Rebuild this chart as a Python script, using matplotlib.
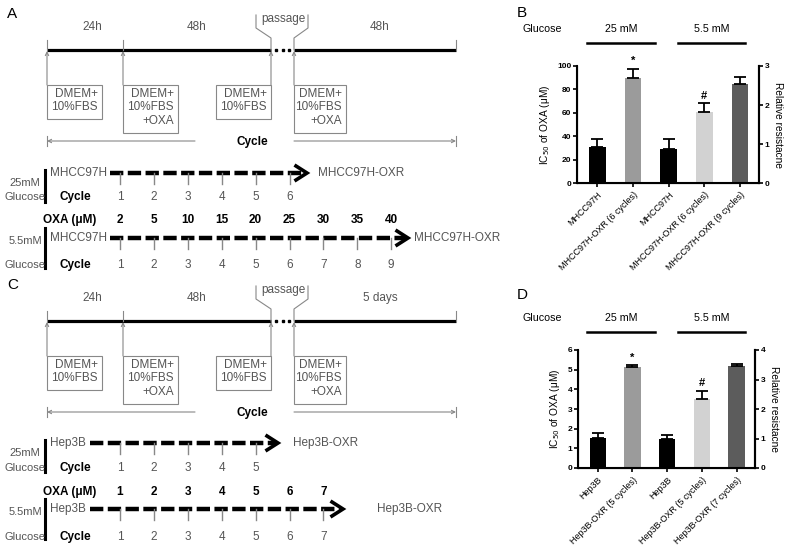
import matplotlib
matplotlib.use("Agg")
import matplotlib.pyplot as plt
import matplotlib.patches as patches

plt.rcParams['font.family'] = ['Liberation Sans', 'DejaVu Sans']

# ---- data ----
a_periods = ["24h", "48h", "48h"]
c_periods = ["24h", "48h", "5 days"]
a_cycles_25 = [1, 2, 3, 4, 5, 6]
a_cycles_55 = [1, 2, 3, 4, 5, 6, 7, 8, 9]
a_oxa = [2, 5, 10, 15, 20, 25, 30, 35, 40]
c_cycles_25 = [1, 2, 3, 4, 5]
c_cycles_55 = [1, 2, 3, 4, 5, 6, 7]
c_oxa = [1, 2, 3, 4, 5, 6, 7]

b_labels = ["MHCC97H", "MHCC97H-OXR (6 cycles)", "MHCC97H",
            "MHCC97H-OXR (6 cycles)", "MHCC97H-OXR (9 cycles)"]
b_ic50 = [31, 89.5, 29, 61, 85]
b_err = [7, 8, 9, 7, 6]
b_marks = ["", "*", "", "#", ""]

d_labels = ["Hep3B", "Hep3B-OXR (5 cycles)", "Hep3B",
            "Hep3B-OXR (5 cycles)", "Hep3B-OXR (7 cycles)"]
d_ic50 = [1.52, 5.12, 1.47, 3.51, 5.2]
d_err = [0.28, 0.1, 0.2, 0.42, 0.1]
d_marks = ["", "*", "", "#", ""]

bar_colors = ["#000000", "#9b9b9b", "#000000", "#d2d2d2", "#5c5c5c"]

GRAY = "#555555"
LGRAY = "#888888"

fig = plt.figure(figsize=(7.98, 5.48), dpi=100)
ov = fig.add_axes([0, 0, 1, 1])
ov.set_xlim(0, 798)
ov.set_ylim(548, 0)
ov.axis('off')


def draw_protocol(y0, periods, letter):
    ov.text(7, y0 + 14, letter, fontsize=11, va='center')
    for x, lab in zip([92, 197, 380], periods):
        ov.text(x, y0 + 27, lab, fontsize=8.5, color=GRAY, ha='center', va='center')
    ov.text(283, y0 + 19, "passage", fontsize=8.5, color=GRAY, ha='center', va='center')
    # timeline
    ov.plot([47, 271], [y0 + 50] * 2, color='k', lw=2.3, solid_capstyle='butt')
    ov.plot([294, 456], [y0 + 50] * 2, color='k', lw=2.3, solid_capstyle='butt')
    ov.plot([276, 282.5, 289], [y0 + 50] * 3, 's', color='k', ms=1.9)
    # passage bracket
    ov.plot([256, 256, 271, 271], [y0 + 15, y0 + 28, y0 + 38, y0 + 50], color=LGRAY, lw=0.8)
    ov.plot([308, 308, 294, 294], [y0 + 15, y0 + 28, y0 + 38, y0 + 50], color=LGRAY, lw=0.8)
    # ticks above the line
    for x in [47, 123, 456]:
        ov.plot([x, x], [y0 + 40, y0 + 50], color=LGRAY, lw=0.8)
    # boxes with arrows up to the timeline
    boxes = [(47, 55, ["DMEM+", "10%FBS"], 47),
             (123, 55, ["DMEM+", "10%FBS", "+OXA"], 123),
             (216, 55, ["DMEM+", "10%FBS"], 271),
             (294, 52, ["DMEM+", "10%FBS", "+OXA"], 294)]
    for bx, bw, lines, ax_x in boxes:
        bh = 14 * len(lines) + 6
        ov.add_patch(patches.Rectangle((bx, y0 + 85), bw, bh, fill=False,
                                       edgecolor=LGRAY, lw=0.8))
        ov.text(bx + bw - 4, y0 + 88, "\n".join(lines), fontsize=8.5, color=GRAY,
                ha='right', va='top', multialignment='right', linespacing=1.15)
        ov.annotate('', xy=(ax_x, y0 + 51), xytext=(ax_x, y0 + 85),
                    arrowprops=dict(arrowstyle='->', color=LGRAY, lw=0.8,
                                    shrinkA=0, shrinkB=0, mutation_scale=6))
    # cycle arrow
    ov.text(252, y0 + 142, "Cycle", fontsize=8.5, fontweight='bold', ha='center', va='center')
    ov.annotate('', xy=(47, y0 + 141), xytext=(195, y0 + 141),
                arrowprops=dict(arrowstyle='->', color=LGRAY, lw=0.8,
                                shrinkA=0, shrinkB=0, mutation_scale=6))
    ov.annotate('', xy=(456, y0 + 141), xytext=(294, y0 + 141),
                arrowprops=dict(arrowstyle='->', color=LGRAY, lw=0.8,
                                shrinkA=0, shrinkB=0, mutation_scale=6))
    for x in [47, 456]:
        ov.plot([x, x], [y0 + 136, y0 + 146], color=LGRAY, lw=0.8)


def tick_x(c):
    return 120 + 33.9 * (c - 1)


def draw_row(y, ylab, conc, name, cycles, dash_start, tip, end_name, end_x, upper):
    if upper:
        ov.text(25, y + 10, conc, fontsize=8, color=GRAY, ha='center', va='center')
        ov.plot([45, 45], [y - 3, y + 29], color='k', lw=2.2)
    else:
        ov.text(25, y + 3, conc, fontsize=8, color=GRAY, ha='center', va='center')
        ov.plot([45, 45], [y - 10, y + 30], color='k', lw=2.2)
    ov.text(25, ylab, "Glucose", fontsize=8, color=GRAY, ha='center', va='center')
    ov.text(50, y, name, fontsize=8.5, color=GRAY, ha='left', va='center')
    ov.plot([dash_start, tip - 3], [y, y], color='k', lw=3.2,
            linestyle=(0, (3, 1)), solid_capstyle='butt', dash_capstyle='butt')
    ov.plot([tip - 11, tip, tip - 11], [y - 7, y, y + 7], color='k', lw=2.6,
            solid_joinstyle='miter')
    for c in cycles:
        ov.plot([tick_x(c)] * 2, [y, y + 11], color=LGRAY, lw=1)
        ov.text(tick_x(c), ylab, str(c), fontsize=8.5, color=GRAY, ha='center', va='center')
    ov.text(75, ylab, "Cycle", fontsize=8.5, fontweight='bold', ha='center', va='center')
    ov.text(end_x, y, end_name, fontsize=8.5, color=GRAY, ha='left', va='center')


def draw_oxa(y, vals):
    ov.text(70, y, "OXA (\u03bcM)", fontsize=8.5, fontweight='bold', ha='center', va='center')
    for i, v in enumerate(vals):
        ov.text(tick_x(i + 1), y, str(v), fontsize=8.5, fontweight='bold',
                ha='center', va='center')


# panel A
draw_protocol(0, a_periods, "A")
draw_row(173, 197, "25mM", "MHCC97H", a_cycles_25, 110, 307, "MHCC97H-OXR", 318, True)
draw_oxa(220, a_oxa)
draw_row(238, 265, "5.5mM", "MHCC97H", a_cycles_55, 110, 408, "MHCC97H-OXR", 414, False)

# panel C
draw_protocol(271, c_periods, "C")
draw_row(443, 468, "25mM", "Hep3B", c_cycles_25, 90, 278, "Hep3B-OXR", 293, True)
draw_oxa(492, c_oxa)
draw_row(509, 537, "5.5mM", "Hep3B", c_cycles_55, 90, 343, "Hep3B-OXR", 377, False)


def draw_bars(rect, vals, errs, labels, marks, ymax, yticks, rmax, letter, y_let, y_top):
    ov.text(517, y_let, letter, fontsize=11, va='center')
    ov.text(542, y_top, "Glucose", fontsize=7.7, ha='center', va='center')
    ov.text(621, y_top, "25 mM", fontsize=7.7, ha='center', va='center')
    ov.text(712, y_top, "5.5 mM", fontsize=7.7, ha='center', va='center')
    ov.plot([587, 655], [y_top + 14] * 2, color='k', lw=1.8)
    ov.plot([678, 745], [y_top + 14] * 2, color='k', lw=1.8)

    ax = fig.add_axes(rect)
    x = list(range(len(vals)))
    ax.bar(x, vals, width=0.47, color=bar_colors, zorder=2)
    ax.errorbar(x, vals, yerr=[[0] * len(errs), errs], fmt='none', ecolor='k',
                elinewidth=1.3, capsize=4, capthick=1.3, zorder=3)
    for i, m in enumerate(marks):
        if m:
            ax.annotate(m, (i, vals[i] + errs[i]), xytext=(0, 2),
                        textcoords='offset points', ha='center', va='bottom',
                        fontsize=8, fontweight='bold')
    ax.set_xlim(-0.57, len(vals) - 0.47)
    ax.set_ylim(0, ymax)
    ax.set_yticks(yticks)
    ax.set_xticks(x)
    ax.set_xticklabels(labels, rotation=45, ha='right', rotation_mode='anchor',
                       fontsize=6.5)
    for lab in ax.get_yticklabels():
        lab.set_fontweight('bold')
    ax.tick_params(axis='y', labelsize=6, length=3, width=1.2, pad=1)
    ax.tick_params(axis='x', length=3, width=1.2, pad=2)
    ax.set_ylabel("IC$_{50}$ of OXA (\u03bcM)", fontsize=7.3, labelpad=4)
    ax.spines['top'].set_visible(False)
    for s in ['left', 'right', 'bottom']:
        ax.spines[s].set_linewidth(1.5)
    ax.patch.set_visible(False)

    ax2 = ax.twinx()
    ax2.set_ylim(0, rmax)
    ax2.set_yticks(range(rmax + 1))
    ax2.tick_params(axis='y', labelsize=6, length=3, width=1.2, pad=1)
    for lab in ax2.get_yticklabels():
        lab.set_fontweight('bold')
    ax2.spines['top'].set_visible(False)
    ax2.spines['right'].set_linewidth(1.5)
    ax2.set_ylabel("Relative resistacne", fontsize=7.3, rotation=270, labelpad=10)


draw_bars([577 / 798, 1 - 183 / 548, 182 / 798, 117 / 548], b_ic50, b_err,
          b_labels, b_marks, 100, [0, 20, 40, 60, 80, 100], 3, "B", 13, 29)
draw_bars([578 / 798, 1 - 468 / 548, 177 / 798, 118 / 548], d_ic50, d_err,
          d_labels, d_marks, 6, [0, 1, 2, 3, 4, 5, 6], 4, "D", 295, 318)

fig.savefig("out.png", dpi=100)
